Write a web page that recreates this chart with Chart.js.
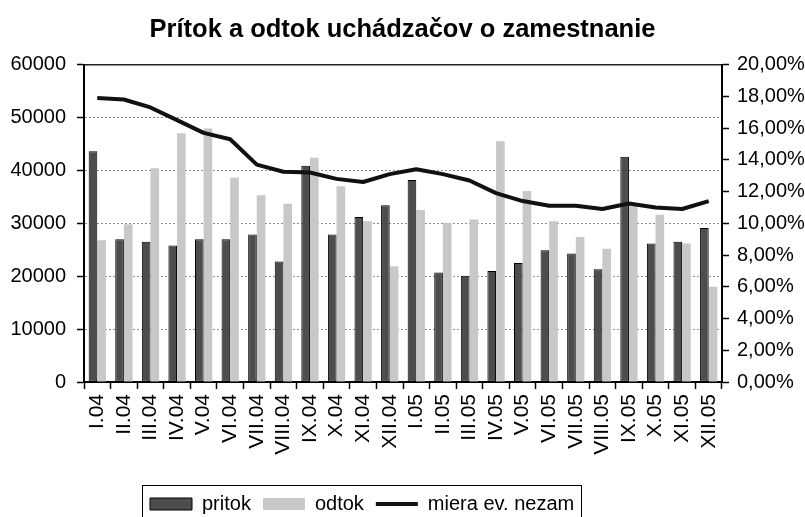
<!DOCTYPE html>
<html lang="sk">
<head>
    <meta charset="UTF-8">
    <title>Prítok a odtok uchádzačov o zamestnanie</title>
    <script src="https://cdn.jsdelivr.net/npm/chart.js"></script>
    <style>
        body { margin: 0; background: #fff; }
        .chart-box { width: 805px; height: 517px; }
    </style>
</head>
<body>
    <div class="chart-box">
        <canvas id="flowChart"></canvas>
    </div>
    <script>
        const months = ['I.04', 'II.04', 'III.04', 'IV.04', 'V.04', 'VI.04', 'VII.04', 'VIII.04', 'IX.04', 'X.04', 'XI.04', 'XII.04',
                        'I.05', 'II.05', 'III.05', 'IV.05', 'V.05', 'VI.05', 'VII.05', 'VIII.05', 'IX.05', 'X.05', 'XI.05', 'XII.05'];
        const pritok = [43600, 27000, 26500, 25800, 27000, 27000, 27900, 22800, 40900, 27900, 31200, 33400,
                        38200, 20700, 20100, 21000, 22500, 24900, 24300, 21300, 42600, 26200, 26500, 29100];
        const odtok = [26800, 29800, 40400, 47000, 47900, 38600, 35300, 33700, 42400, 37000, 30400, 21900,
                       32500, 30100, 30700, 45500, 36100, 30400, 27400, 25200, 33500, 31600, 26200, 18000];
        const miera = [17.9, 17.8, 17.3, 16.5, 15.7, 15.3, 13.7, 13.25, 13.2, 12.8, 12.6, 13.1,
                       13.4, 13.1, 12.7, 11.9, 11.4, 11.1, 11.1, 10.9, 11.25, 11.0, 10.9, 11.4];
        const legendStyles = ['rect', 'rect', 'line'];

        const font = { family: '"Liberation Sans", Arial, sans-serif', size: 20 };

        // legend sits in a framed box, a bit left of centre
        const legendFrame = {
            id: 'legendFrame',
            beforeDraw(chart) {
                const lg = chart.legend;
                lg.left = 138;
                lg.right = 600;
                lg.top = 482;
            },
            afterDraw(chart) {
                const ctx = chart.ctx;
                ctx.save();
                ctx.strokeStyle = '#000';
                ctx.lineWidth = 1;
                ctx.strokeRect(142.5, 485.5, 439, 40);
                ctx.restore();
            }
        };

        new Chart(document.getElementById('flowChart'), {
            type: 'bar',
            data: {
                labels: months,
                datasets: [
                    {
                        label: 'pritok',
                        data: pritok,
                        backgroundColor: '#4d4d4d',
                        borderColor: '#000',
                        borderWidth: 1,
                        borderSkipped: false,
                        categoryPercentage: 0.65,
                        barPercentage: 1.0,
                        yAxisID: 'y'
                    },
                    {
                        label: 'odtok',
                        data: odtok,
                        backgroundColor: '#c8c8c8',
                        borderWidth: 0,
                        categoryPercentage: 0.65,
                        barPercentage: 1.0,
                        yAxisID: 'y'
                    },
                    {
                        type: 'line',
                        label: 'miera ev. nezam',
                        data: miera,
                        borderColor: '#111',
                        backgroundColor: '#111',
                        borderWidth: 4,
                        pointRadius: 0,
                        tension: 0,
                        borderJoinStyle: 'round',
                        yAxisID: 'y1',
                        order: -1
                    }
                ]
            },
            options: {
                responsive: true,
                maintainAspectRatio: false,
                animation: false,
                layout: { padding: 0 },
                plugins: {
                    title: {
                        display: true,
                        text: 'Prítok a odtok uchádzačov o zamestnanie',
                        color: '#000',
                        font: { family: font.family, size: 25.5, weight: 'bold' },
                        padding: { top: 15, bottom: 19 }
                    },
                    legend: {
                        position: 'bottom',
                        align: 'start',
                        labels: {
                            color: '#000',
                            font: font,
                            usePointStyle: true,
                            pointStyleWidth: 42,
                            boxHeight: 12,
                            padding: 12,
                            sort: (a, b) => a.datasetIndex - b.datasetIndex,
                            generateLabels(chart) {
                                const items = Chart.defaults.plugins.legend.labels.generateLabels(chart);
                                items.forEach(it => { it.pointStyle = legendStyles[it.datasetIndex]; });
                                return items;
                            }
                        }
                    },
                    tooltip: { enabled: false }
                },
                scales: {
                    x: {
                        grid: { offset: true, drawOnChartArea: false, tickLength: 7, tickColor: '#000', tickWidth: 1.5 },
                        border: { color: '#000', width: 2 },
                        ticks: { color: '#000', font: { family: font.family, size: 21 }, minRotation: 90, maxRotation: 90, autoSkip: false, padding: 5 },
                        afterFit(scale) { scale.height = 93; }
                    },
                    xTop: {
                        position: 'top',
                        grid: { display: false, drawTicks: false },
                        ticks: { display: false },
                        border: { color: '#222', width: 1.5 },
                        afterFit(scale) { scale.height = 0; }
                    },
                    y: {
                        position: 'left',
                        min: 0,
                        max: 60000,
                        ticks: { stepSize: 10000, color: '#000', font: font, padding: 11, callback: v => String(v) },
                        grid: { color: '#8c8c8c', lineWidth: 1, tickLength: 7, tickColor: '#000', tickWidth: 1.5 },
                        border: { color: '#000', width: 2, dash: [2, 2] },
                        afterFit(scale) { scale.width = 84; }
                    },
                    y1: {
                        position: 'right',
                        min: 0,
                        max: 20,
                        ticks: {
                            stepSize: 2,
                            color: '#000',
                            font: font,
                            padding: 8,
                            callback: v => v.toFixed(2).replace('.', ',') + '%'
                        },
                        grid: { drawOnChartArea: false, tickLength: 7, tickColor: '#000', tickWidth: 1.5 },
                        border: { color: '#000', width: 2 },
                        afterFit(scale) { scale.width = 83; }
                    }
                }
            },
            plugins: [legendFrame]
        });
    </script>
</body>
</html>
